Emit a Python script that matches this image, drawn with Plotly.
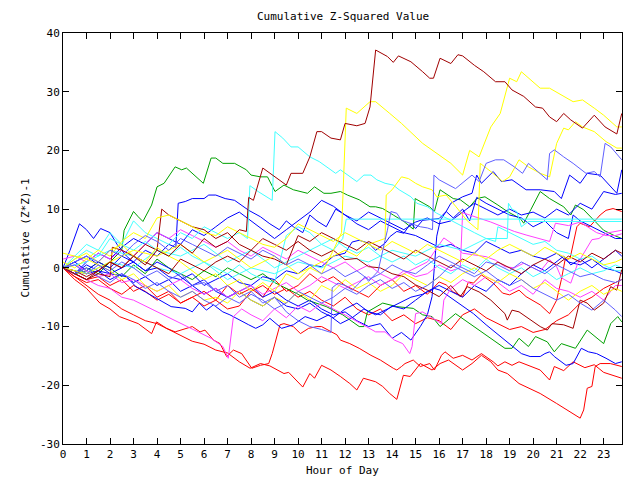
import plotly.graph_objects as go

# ---- x grid used by the half-hourly series (hours of day) ----
HALF = [i * 0.5 for i in range(48)] + [23.77]

# ---- series data: hours and cumulative (Z*Z)-1 values ----
DR1_H = [0,0.5,1,1.5,2,2.5,3,3.5,4,4.5,5,5.5,6,6.5,7,7.5,7.8,7.9,8.1,8.5,9.0,9.5,9.7,10.2,10.5,10.8,11.0,11.4,11.8,12.0,
         12.5,12.85,13.06,13.3,13.8,14.05,14.27,14.8,15.3,15.6,15.76,16.04,16.5,16.8,17.0,17.5,17.9,18.4,18.8,19.1,
         19.6,20.1,20.4,20.7,21.0,21.3,21.6,22.1,22.6,23.06,23.56,23.77]
DR1_V = [0,-1,-2,-0.5,1,0,2,0.5,3,2,4,2.5,5,3.5,4.5,6.5,6.2,12,11.5,17,15.5,14.1,16.1,16.1,18.9,23.2,23.2,22.1,21.8,24.6,
         24.2,24.6,27.4,37.1,36,35,36.1,35.1,33.4,32.3,32.3,35.7,34.8,36.3,36.1,34.5,33.4,31.7,31.7,30.3,
         29.2,27.4,27.2,25.7,24.9,26.3,25.2,23.8,26,24,22.8,26.3]

Y1_H = [0,0.5,1,1.5,2,2.5,3,3.5,4,4.5,5,5.5,6,6.5,7,7.5,8,8.5,9,9.5,10,10.5,11,11.5,11.85,12.05,12.5,13.06,13.3,13.9,
        14.4,15.3,15.9,16.5,17.0,17.3,17.7,18.2,18.6,19.0,19.3,19.5,20.3,20.7,21.7,22.1,22.6,23.0,23.56,23.77]
Y1_V = [0,1.5,2.5,1,3,4,2,1,3.5,2,1,-0.5,-2,-1,-3,-2,-4,-2.5,-4,-1,-2,0,-1,3,6,27.2,26.3,28.3,28.3,26.3,
        24.6,21.2,19.5,17.8,15.8,20,18.9,24,26.3,32.3,31.7,33.4,30.6,30.6,28.3,28.6,27.2,26,24,24]

Y2_H = [0,1,2,3,4,5,6,7,8,9,10,11,12,12.5,13,13.7,13.75,14.0,14.4,14.7,15.0,15.3,15.7,15.9,16.3,16.7,17.2,17.65,17.75,18.2,
        18.7,19.0,19.4,19.8,20.3,20.7,21.0,21.3,21.5,21.8,22.1,22.6,23.1,23.56,23.77]
Y2_V = [0,-1,1,3,2,4,1,3,0,2,-1,1,3,2,4,5,12.4,13.3,15.5,15.2,14.4,13.8,13.3,12.1,12.4,10.5,8,6.5,17.8,16.4,
        14.7,15.5,18.4,17.2,16.1,15.5,21.2,23.8,23.5,24.9,24,23.2,21.5,20.4,20.4]

Y3_V = [2.5,2,1.5,0.5,-0.5,-2,-1,-3,-4,-3,-5,-4,-5.5,-5,-6,-4,-5.5,-6.5,-5,-6,-4,-5.5,-3,-4,-2,-3.5,-2.5,-4,-3,-1,
        -2,-3,-1.5,-2.5,-1,0,-1.5,-2.5,-1,-2,-3.5,-2.5,-4,-5.5,-4,-3,-4.5,-3.5,-4]
Y4_V = [1,0,1.5,3,2,4.5,6,5,8.5,9,8,7,6,5.5,7,6,5,4,3.5,5,7.5,6.5,5.5,4.5,6,5,4,3,4.5,3.5,
        2.5,4,3,2,1,2.5,1.5,3,4,3,2,3.5,2.5,1.5,2.5,1.5,0.5,1,1.5]

C1_H = [0,0.5,1,1.5,2,2.5,3,3.5,4,4.5,5,5.5,6,6.5,7,7.5,7.85,7.95,8.3,8.9,9.02,9.35,9.7,10.0,10.5,10.9,11.4,11.6,11.8,12.1,
        12.5,12.8,13.1,13.35,13.7,14.05,14.3,14.8,15.05,15.5,15.9,16.5,17,17.5,18,18.4,18.5,19,19.5,20,
        20.5,21,21.5,22,22.5,23,23.5,23.77]
C1_V = [0,2,4,3,6,4,8,6,5,4,6,5,7,6,5,6,5,14,13,11.5,23.2,22.1,20.6,20.6,18.9,18.1,16.7,16.1,16.7,15.8,
        14.7,15.8,15.8,15,14.4,14.1,13.3,12.1,11,10.4,9.3,8.1,7,6,5,4.5,7,6,5,4,
        4.5,3,2.5,1.5,2,0.5,-0.5,-0.5]

C2_H = [0,1,2,3,4,5,6,7,8,9,10,11,11.5,11.9,12.05,23.77]
C2_V = [0,-1,1,0,3,2,4,1,3,0,2,4,3,5,8.3,8.3]

C3_H = [0,1,2,3,4,5,6,7,8,9,10,11,12,13,14,15,16,17,18,18.9,18.95,19.1,19.3,19.5,19.8,20.0,23.77]
C3_V = [0,1,3,2,0,-1,1,-2,0,-1,1,0,2,1,3,2,4,3,5,5,11,10,9.6,7,7.9,7.9,7.9]

C4_V = [0,1.5,3,2,5,4,3,4.5,3,2,3.5,2,1,0,-1,0.5,-1,-2,-2.5,5.5,7,6,4,5,3.5,2.5,3.5,2,1,2,
        0.5,1.5,0,-1,0.5,-0.5,1.5,0,-1,0,-1.5,-0.5,-2,-1,0,-1,-0.5,0.5,0]

G1_H = [0,0.5,1,1.5,2,2.5,2.6,3.0,3.2,3.4,3.77,4.0,4.3,4.77,5.05,5.25,5.97,6.3,6.5,6.8,7.3,7.8,8.0,8.4,8.7,9.02,9.4,9.8,10.4,10.7,
        11.1,11.4,11.8,12.1,12.6,13.06,13.3,13.6,14.05,14.5,14.9,14.98,15.6,15.8,16.04,16.6,16.9,17.3,17.6,17.95,
        18.5,18.9,19.45,19.6,19.9,20.3,20.7,21.3,21.6,21.8,22.15,22.6,23.0,23.4,23.77]
G1_V = [0,-1,0,-1,1,3,6.4,9.6,8.7,7.9,10.7,13.8,14.4,17.2,16.7,17,14.4,18.7,18.7,17.8,17.8,16.7,15.8,15.5,15.5,13,14.1,13.3,12.7,13.8,
        12.7,12.7,13,12.4,11.6,10.4,10.4,10.1,9.0,7.9,6.6,11.8,10.4,9.6,13.3,11.8,11.6,10.4,11.8,12.1,
        10.7,9.6,8.4,7.6,9.9,13.0,11.8,10.4,9.0,10.7,9.9,8.1,6.4,5.6,5.0]

G2_H = [0,0.5,1,1.5,2,2.5,3,3.5,4,4.5,5,5.5,6,6.5,7,7.5,8,8.5,9,9.5,10.0,10.4,11.2,11.9,12.6,12.8,12.95,13.6,14.2,14.9,
        15.3,15.7,16.04,16.7,17.7,18.8,19.1,19.4,19.8,20.1,20.6,20.9,21.2,21.8,22.3,23.0,23.3,23.6,23.77]
G2_V = [0,-1,-0.5,1,0,-1.5,0.5,-1,1.5,0,-1,-2,-0.5,-1.5,0,-1,-2,-1,-2.5,-3.5,-4.5,-5.5,-6.6,-8,-10,-10,-7.5,-6,-6.6,-6.9,
        -8,-8.3,-10,-7.8,-10.6,-13.7,-13.7,-12,-13.4,-11.7,-12.6,-14.3,-12.9,-13.7,-10.6,-12.9,-9.5,-8.3,-9.2]

RA_H = [0,0.5,1,1.57,2,2.4,3.2,3.77,3.98,4.4,4.77,5.5,5.83,6.04,6.4,6.68,6.96,7.25,7.6,8.03,8.4,8.75,8.9,9.23,9.4,9.8,10.1,10.45,10.8,11.0,
        11.65,11.8,12.2,12.6,13.1,13.5,14.05,14.2,14.4,14.55,14.9,15.2,15.6,15.8,16.1,16.25,16.6,17.0,17.4,17.8,
        18.3,18.5,18.8,19.1,19.4,19.8,20.3,20.7,20.9,21.3,21.7,22.2,22.6,23.0,23.5,23.77]
RA_V = [0,-2,-3.5,-6,-7,-8.3,-9.5,-11.2,-9.2,-10.3,-10.9,-10,-10.9,-10.6,-12.3,-12.9,-15.1,-14,-14.6,-17.1,-16.6,-16.3,-14.6,-9.7,-9.5,-10,-11.2,-10.3,-10,-10,
        -11.4,-12.3,-12.9,-13.7,-14.9,-15.7,-17.1,-17.4,-16.8,-16.3,-15.7,-16.8,-16.3,-17.4,-14.9,-14.3,-15.4,-14.9,-15.7,-14.6,
        -16,-16.7,-16,-16.6,-16,-16.6,-17.4,-19.1,-16.8,-17.5,-16,-17,-16.5,-17.8,-18.5,-18.8]

RB_H = [0,0.5,1,1.5,2,2.5,3,3.5,4,4.5,5,5.5,6,6.5,7,7.5,7.96,8.4,8.8,9.4,9.6,10.2,10.5,10.7,11.0,11.4,11.8,12.2,12.5,12.78,
        13.3,13.6,13.9,14.2,14.48,14.77,15.2,15.7,16.04,16.4,17.0,17.4,17.8,18.2,18.5,18.9,19.4,20.0,20.3,21.0,
        22.0,22.15,22.3,22.5,22.64,22.85,23.28,23.77]
RB_V = [0,-1.5,-3,-4.5,-5.5,-7,-8,-9,-9.5,-10.5,-11.5,-12.5,-13,-14,-14.5,-16,-17.1,-16.3,-16.7,-18,-17.8,-20.3,-18,-18.8,-16.6,-17.4,-18.5,-19.7,-20.8,-18.8,
        -19.4,-20.2,-21.4,-22.4,-18.3,-18.5,-16.3,-17.4,-16.3,-15.7,-17.4,-16.3,-14.9,-16,-17.4,-18,-19.7,-20.8,-21.4,-23.1,
        -25.6,-24.2,-20.5,-20.2,-16.8,-16.3,-16.3,-16.8]

RD_H = HALF[:33] + [16.3,16.6,17.0,17.25,17.46,17.8,18.3,18.7,19.0,19.4,19.7,20.3,20.7,21.0,21.2,21.36,21.57,21.86,22.0,22.4,
                    22.85,23.1,23.4,23.77]
RD_V = [0,-1,-2,-1.5,-3,-2,-4,-3,-5,-4,-6,-5,-4,-5.5,-3,-4.5,-3.5,-5,-2,-4,-3,-1,-2.5,-1.5,-3,-4,-5,-3,-2,-4,-3,-4.5,-2.4,
        -2.9,-4.1,-4.9,-2.4,-2.6,-1.2,-2.6,-4.3,-4.6,-3.8,-4.9,-6.3,-7.8,-5.5,-2,1.4,1.6,7,7.6,7,9,9.8,10.1,9.6]

R5_V = [0,-1.5,-2.5,-2,-3.5,-4.5,-3,-4,-5.5,-4.5,-6,-5,-6.5,-5.5,-7,-6.5,-4,-3,-4.5,-3.5,-5,-4,-5.5,-6.5,-5,-7,-8,-7,-9,-8,
        -9.5,-8.5,-9,-10.5,-8,-7,-8.5,-9.5,-10.5,-10,-11,-10.5,-9,-8,-6,-5,-3.5,-2.5,-2]

DR2_H = [0,0.5,1,1.5,2,2.1,2.5,3,3.5,4,4.2,4.5,5,5.5,6,6.5,7,7.5,8,8.5,9,9.5,10,10.5,11,11.5,12,12.5,13,13.5,
         14,14.5,15,15.5,16,16.5,16.9,17.2,17.7,18.2,18.8,18.9,19.1,19.4,20.3,20.6,20.8,21.3,21.7,22.0,22.3,22.6,23.0,23.3,23.56,23.77]
DR2_V = [0,-1,-2,-1,-1.5,3.5,3,2,4,3,10,9,8,7,6.5,5,6,4,3,5,4,3,4.5,3,2,3,1.4,1.6,0.2,0,
         -1,-1.5,-2.9,-3.8,-4.9,-3,-4.9,-3.2,-4.1,-5.5,-7.8,-8.9,-7.2,-7.5,-10,-10.6,-9.5,-9.7,-10.3,-5.5,-6,-7.2,-6,-3.2,-3.8,-0.3]

DR3_V = [0,-0.5,-1.5,-0.5,1,0,2,1,0,-1,1.5,0.5,-0.5,1,2,1,3,2,1.5,0.5,5.5,4.5,6,5,4,3,4.5,3.5,2.5,1.5,
         3,2,1,0,1.5,0.5,-0.5,1,0,-1,0.5,1.5,0.5,2,1,2.5,1.5,3,2.5]

B1_H = HALF[:25] + [12.3,12.6,13.0,13.3,13.7,13.9,14.2,14.5,14.8,15.0,15.3,16.0,16.3,16.5,17.0,17.4,17.6,17.8,18.3,18.65,
                    19.1,19.7,20.3,20.9,21.2,21.55,22.0,22.3,22.85,23.56,23.77]
B1_V = [0,1,2,0.5,-1,0,1,-0.5,0,-1.5,-2,-1,-3,-2,-1,-2.5,-3,-1.5,-2,-0.5,-1,0.5,0.2,2,2.5,
        4.4,4.7,4.2,3,4.2,5.3,6.2,5.9,7.6,6.7,8.1,8.4,9.6,11,12.1,12.7,15.8,14.4,16.4,14.7,
        15,13.3,13.3,13,11.8,15.8,14.4,16.1,15.8,12.7,16.7]

B2_V = [0,-1,1,2.5,1.5,3.5,5,4,6,5,4,6.5,5.5,7,8.5,9.5,8,6.5,5,6.5,8,9.5,11.5,10.5,9,8,9.5,8.5,7.5,6.5,
        7.8,8.5,7.5,8,9.5,11,10,9,10,9,9.5,8.5,10,9,11,10,13,12.5,12.7]

B3_H = [0,0.5,1,1.5,2,2.7,3.1,3.5,4.1,4.6,5.2,5.5,5.8,6.1,6.4,6.8,7.1,7.5,7.9,8.2,8.5,8.8,9.3,9.8,10.3,10.8,11.3,11.8,12.3,12.8,
        13.3,13.8,14.3,14.8,15.3,15.8,16.04,16.9,17.46,18.0,18.45,19.0,19.5,19.87,20.3,20.5,20.7,20.9,21.4,21.7,
        22.05,22.35,22.7,23.1,23.5,23.77]
B3_V = [0,-0.5,-1,-0.5,-1,-1.5,-3.2,-4.1,-5.5,-6.6,-6.9,-7.5,-6,-7.2,-6.3,-7.5,-8,-8.9,-9.7,-10.3,-9.7,-8.6,-10.3,-9.7,-8.3,-9,-8,-9.5,-8.5,-7,
        -8,-7,-6,-5,-4.5,-3.5,-3.8,-6.3,-7.8,-9.7,-11.2,-12.9,-14.6,-15.1,-15.1,-14.6,-14.3,-15.1,-16.6,-16.3,
        -13.7,-14.3,-14.6,-15.4,-16.3,-16]

B4_H = HALF[:29] + [14.4,14.8,15.2,15.5,15.7,15.9,16.05,16.3,16.6,17,17.3,17.6,18,18.5,19,19.5,20,20.5,21,21.5,
                    21.7,22,22.5,23,23.5,23.77]
B4_V = [0,-1,0.5,-0.5,-2,-1,-2.5,-1.5,-3,-2,-4,-3,-4.5,-3.5,-5,-4,-3,-5,-4,-5.5,-6.5,-5.5,-7,-8,-7.5,-9,-10,-9.5,-12,
        -11,-12.3,-10,-8,-4.9,5.4,8.1,9.6,8.5,10,8,12,11,10,9,8.5,7,8,6,5,9,8,7,6,5,5]

B5_H = HALF[:10] + [4.8,4.9,5.2,5.5,6.0,6.2,6.5,6.9,7.3,7.6,7.9,8.4,8.8,9.2,9.5,9.8,10.2,10.5,10.8,11.2,
                    11.6,12,12.5,13,13.5,14,14.5,15,15.5,16,16.5,17,17.5,18,18.5,19,19.5,20,20.5,21,
                    21.5,22,22.5,23,23.5,23.77]
B5_V = [0,1,-0.5,1,0,2,1,3,2,4,3.5,11,11.3,11.8,11.8,12.4,12.4,11.8,11.5,10.7,9.8,8.7,7.5,6.5,8,7,6,9,8,7,
        10,9,7.5,6.5,8,7,6,5.5,4.5,3.5,4,3,2.5,4.5,3.5,2.5,3,2,1.5,2.5,1,0.5,1.5,0,-0.5,-1]

B6_H = [0,0.3,0.7,1.0,1.3,1.6,2.0,2.3,2.7,3,3.5,4,4.5,5,5.5,6,6.5,7,7.5,8,8.5,9,9.5,10,10.5,11,11.5,12,12.5,13,
        13.5,14,14.5,15,15.5,16,16.5,17,17.5,18,18.5,19,19.5,20,20.5,21,21.3,21.6,22,22.5,23,23.5,23.77]
B6_V = [0,3,7.5,6.5,5,6.7,6,4,2,1,-0.5,1,0,-1.5,-3,-2,-4,-5,-4,-5.5,-6.5,-5,-6.5,-7,-6,-7.5,-8.5,-7,-6,-7.5,
        -8,-6.5,-7,-5.5,-4,-3,-4,-5,-3,-4,-2,-3,-1,0.5,-0.5,1,2,0.5,1.5,0,1.5,3,2]

LB1_H = HALF[:23] + [11.4,11.45,11.7,12.0,12.3,12.6,12.85,13.0,13.4,13.7,13.8,13.95,14.2,14.4,14.8,15.2,15.5,15.72,15.78,16.0,
                     16.7,17.4,17.7,18.0,18.4,18.75,19.2,19.55,19.8,20.3,20.6,20.7,20.9,21.3,21.7,22.25,22.6,22.85,23.06,23.3,23.77]
LB1_V = [0,0.5,-1,0.5,-0.5,1,0,-1.5,-0.5,-2,-1,-3,-2.5,-4,-3,-5,-4,-6,-5,-7.5,-9,-10,-10.5,
         -11,-3.4,-2.6,-3,-3.8,-2.6,-1.5,-2.3,-0.6,4.7,6.4,9.6,9.3,8.1,7.5,7,6.8,6.5,15.8,15,
         13.5,15.8,14.7,17.8,18.4,18.4,17.2,16.1,17.8,16.1,15,19.5,20.1,18.9,17.8,16.1,16.4,15.5,21.2,20.6,18.4]
LB2_V = [0,-1,0,-1.5,-2.5,-1,-2,-3.5,-2.5,-4,-5,-4,-5.5,-6.5,-5,-6,-4.5,-5.5,-7,-6,-4,-5,-6,-5,-3.5,-4.5,-3,-2,-3.5,-2.5,
         -4,-3,-1.5,0.5,-0.5,-1.5,-0.5,-2,-3,-2,-3.5,-4.5,-5.5,-4.5,-6,-7.2,-5.5,-7.2,-8.3]
LB3_V = [0,1,2,1,3,2,4,5.5,4.5,3,5,4,3,2,3.5,2.5,1.5,3,2,0.5,1.5,0.5,-1,0,-1.5,-0.5,-2,-1,0.5,-0.5,
         -1,0.5,2,1,0,-1,1,0.5,-0.5,1,0,-1,0.5,-0.5,-1.5,-1,-2,-2.5,-2]

M1_H = HALF[:12] + [5.9,6.3,6.8,7.03,7.25,7.6,8,8.5,9,9.5,10,10.5,11,11.5,12,12.9,13.3,13.7,14.1,14.45,
                    14.75,14.85,15.0,15.3,15.9,16.1,16.2,16.5,17,17.5,18,18.5,19,19.5,20,20.5,21,21.5,22,22.5,
                    23,23.5,23.77]
M1_V = [0,-1,-2,-3,-3.5,-5,-5.5,-6.5,-7.5,-8.5,-9.5,-10.5,-11.2,-12,-13.4,-15.4,-8.3,-7,-8,-9,-7,-8.5,-6.5,-7.5,-6,-7,-8,-10,-10.9,-10.9,
        -12.3,-12.9,-14.6,-13.4,-7.8,-7.5,-8.9,-9.5,-5.5,-3.5,-2,-3,-1.5,-2.5,-4,-3,-4.5,-2,-3.5,-4,-5,-4,-5.5,-3,-3]

M2_H = HALF[:32] + [16.2,16.6,17.0,18.0,18.4,18.8,19.2,19.6,20.0,20.3,20.7,21.0,21.2,21.6,21.9,22.5,22.8,23.1,23.77]
M2_V = [1.5,2,1,2.5,1.5,3,2,4,6,5,6.5,5.5,4.5,3.5,4.5,3,2,3.5,2.5,1.5,3,2,1,0,1,-0.5,0.5,-1,-2,-1,0,1,
        5.1,4,2.5,1.9,1.3,0.2,0,0.8,0,-0.6,1.4,0.2,-1.7,-2.6,0.8,4.8,5,5.9,6.4]

M3_H = HALF[:34] + [16.9,17.0,17.3,17.7,18.2,18.7,19.2,19.7,20.2,20.7,20.95,21.5,22.0,22.3,22.7,23.1,23.5,23.77]
M3_V = [0,0.5,-0.5,-1.5,-1,-2.5,-2,-3,-4,-3,-2,-3.5,-4.5,-3.5,-5,-4,-3,-4.5,-3.5,-2.5,-4,-3,-1.5,-2.5,-3.5,-2.5,-1.5,-3,-2,-0.5,
        -1.5,-1,0.5,-0.5,0,9.4,9.0,8.5,7.8,7.0,6.2,5.6,5.0,4.5,7.6,7.2,7.8,7.0,6.0,5.5,5.5,5.8]

# ---- colours ----
RED, GREEN, BLUE, MAGENTA = "#ff0000", "#00a000", "#0000ff", "#ff40ff"
CYAN, DRED, YELLOW, LBLUE = "#40ffff", "#a00000", "#ffff00", "#6060ff"

SERIES = [
    (HALF, R5_V, RED), (RA_H, RA_V, RED), (RB_H, RB_V, RED), (RD_H, RD_V, RED),
    (G1_H, G1_V, GREEN), (G2_H, G2_V, GREEN),
    (B1_H, B1_V, BLUE), (HALF, B2_V, BLUE), (B3_H, B3_V, BLUE), (B4_H, B4_V, BLUE),
    (B5_H, B5_V, BLUE), (B6_H, B6_V, BLUE),
    (M1_H, M1_V, MAGENTA), (M2_H, M2_V, MAGENTA), (M3_H, M3_V, MAGENTA),
    (C1_H, C1_V, CYAN), (C2_H, C2_V, CYAN), (C3_H, C3_V, CYAN), (HALF, C4_V, CYAN),
    (DR2_H, DR2_V, DRED), (HALF, DR3_V, DRED),
    (Y1_H, Y1_V, YELLOW), (Y2_H, Y2_V, YELLOW), (HALF, Y3_V, YELLOW), (HALF, Y4_V, YELLOW),
    (LB1_H, LB1_V, LBLUE), (HALF, LB2_V, LBLUE), (HALF, LB3_V, LBLUE),
    (DR1_H, DR1_V, DRED),
]

TITLE = "Cumulative Z-Squared Value"
XTITLE = "Hour of Day"
YTITLE = "Cumulative (Z*Z)-1"
XTICKS = list(range(24))
YTICKS = [-30, -20, -10, 0, 10, 20, 30, 40]

FONT = "DejaVu Sans Mono"

fig = go.Figure()
for h, v, col in SERIES:
    fig.add_trace(go.Scatter(x=h, y=v, mode="lines", line=dict(color=col, width=1),
                             hoverinfo="skip", showlegend=False))

axis_common = dict(showline=True, linecolor="black", linewidth=1, mirror="ticks",
                   ticks="inside", ticklen=6, tickcolor="black", tickwidth=1,
                   showgrid=False, zeroline=False,
                   tickfont=dict(family=FONT, size=11, color="black"))

# the page body adds an 8px offset, so margins are reduced by 8px on left/top
fig.update_layout(
    width=640, height=480,
    margin=dict(l=55, r=26, t=25, b=44),
    paper_bgcolor="white", plot_bgcolor="white",
    showlegend=False,
    xaxis=dict(range=[0, 23.78], tickvals=XTICKS, ticktext=[str(t) for t in XTICKS], **axis_common),
    yaxis=dict(range=[-30, 40], tickvals=YTICKS, ticktext=[str(t) for t in YTICKS], **axis_common),
    annotations=[
        dict(text=TITLE, xref="paper", yref="paper", x=0.5, y=1, yshift=17, showarrow=False,
             xanchor="center", yanchor="middle", font=dict(family=FONT, size=11, color="black")),
        dict(text=XTITLE, xref="paper", yref="paper", x=0.5, y=0, yshift=-26, showarrow=False,
             xanchor="center", yanchor="middle", font=dict(family=FONT, size=11, color="black")),
        dict(text=YTITLE, xref="paper", yref="paper", x=0, y=0.5, xshift=-38, showarrow=False,
             textangle=-90, xanchor="center", yanchor="middle",
             font=dict(family=FONT, size=11, color="black")),
    ],
)

fig.write_html("out.html")
